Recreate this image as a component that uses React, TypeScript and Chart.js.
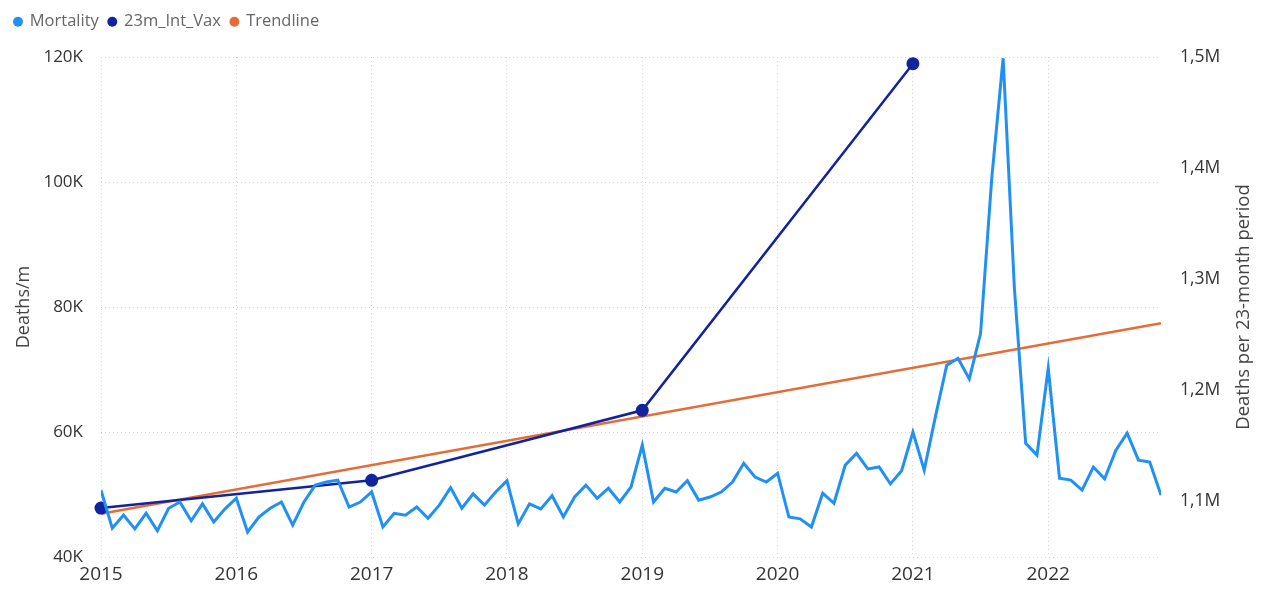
import React, { useEffect, useRef } from "react";
import { Chart, registerables } from "chart.js";

Chart.register(...registerables);

// Categories: years (x axis), monthly values per year
const years = [2015, 2016, 2017, 2018, 2019, 2020, 2021, 2022];

// Mortality (deaths per month), Jan..Dec
const mortality2015 = [50700, 44600, 46700, 44500, 47000, 44200, 47800, 48800, 45800, 48500, 45600, 47700];
const mortality2016 = [49400, 44000, 46400, 47800, 48800, 45100, 48800, 51500, 52000, 52300, 48000, 48800];
const mortality2017 = [50400, 44800, 47000, 46700, 48000, 46200, 48300, 51100, 47800, 50100, 48300, 50400];
const mortality2018 = [52200, 45300, 48500, 47700, 49800, 46400, 49600, 51500, 49400, 51000, 48800, 51200];
const mortality2019 = [57900, 48800, 51000, 50400, 52200, 49100, 49600, 50400, 52000, 55000, 52800, 52000];
const mortality2020 = [53400, 46400, 46100, 44800, 50200, 48600, 54700, 56600, 54100, 54400, 51700, 53800];
const mortality2021 = [60000, 53900, 62500, 70700, 71800, 68500, 75800, 100800, 119800, 83000, 58200, 56300];
const mortality2022 = [70200, 52600, 52300, 50700, 54400, 52500, 57100, 59800, 55500, 55200, 49900];
const mortalityByYear = [
  mortality2015, mortality2016, mortality2017, mortality2018,
  mortality2019, mortality2020, mortality2021, mortality2022,
];

// 23-month interval series (right axis)
const vaxYears = [2015, 2017, 2019, 2021];
const vaxValues = [1094000, 1119000, 1182000, 1494000];

// Trendline (left axis): start Jan 2015, end Nov 2022
const trendYears = [2015, 2022];
const trendMonths = [1, 11];
const trendValues = [46900, 77400];

// Axis ticks
const leftTicks = [40000, 60000, 80000, 100000, 120000];
const rightTicks = [1100000, 1200000, 1300000, 1400000, 1500000];
const rightMin = 1050000;
const lastYear = 2022;
const lastMonth = 11;

const leftTitle = "Deaths/m";
const rightTitle = "Deaths per 23-month period";

const FONT = "'Open Sans', 'DejaVu Sans', sans-serif";

export default function App() {
  const ref = useRef<HTMLCanvasElement | null>(null);

  useEffect(() => {
    if (!ref.current) return;

    const mortality: { x: number; y: number }[] = [];
    mortalityByYear.forEach((vals, i) =>
      vals.forEach((v, m) => mortality.push({ x: years[i] + m / 12, y: v }))
    );
    const vax = vaxYears.map((yr, i) => ({ x: yr, y: vaxValues[i] }));
    const trend = trendYears.map((yr, i) => ({ x: yr + (trendMonths[i] - 1) / 12, y: trendValues[i] }));

    const legendHeightPlugin = {
      id: "legendHeight",
      afterInit(chart: any) {
        const lg = chart.legend;
        if (!lg) return;
        const orig = lg.fit.bind(lg);
        lg.fit = () => {
          orig();
          lg.height = 53.5;
        };
      },
    };

    // Right axis title, reading bottom-to-top like the reference
    const rightTitlePlugin = {
      id: "rightTitle",
      afterDraw(chart: any) {
        const s = chart.scales.y1;
        const ctx = chart.ctx;
        ctx.save();
        ctx.translate(s.right - 19, (s.top + s.bottom) / 2);
        ctx.rotate(-Math.PI / 2);
        ctx.font = `18.5px ${FONT}`;
        ctx.fillStyle = "#444444";
        ctx.textAlign = "center";
        ctx.textBaseline = "middle";
        ctx.fillText(rightTitle, 0, 0);
        ctx.restore();
      },
    };

    const dotted = { display: false, dash: [1, 3] };

    const chart = new Chart(ref.current, {
      type: "line",
      data: {
        datasets: [
          {
            label: "Mortality",
            data: mortality,
            borderColor: "#2090F5",
            backgroundColor: "#2090F5",
            borderWidth: 3,
            pointRadius: 0,
            tension: 0,
            yAxisID: "y",
          },
          {
            label: "23m_Int_Vax",
            data: vax,
            borderColor: "#12239E",
            backgroundColor: "#12239E",
            borderWidth: 2.5,
            pointRadius: 6.5,
            pointBorderWidth: 0,
            tension: 0,
            clip: false,
            yAxisID: "y1",
          },
          {
            label: "Trendline",
            data: trend,
            borderColor: "#E66C37",
            backgroundColor: "#E66C37",
            borderWidth: 2.5,
            pointRadius: 0,
            tension: 0,
            yAxisID: "y",
          },
        ],
      },
      options: {
        animation: false,
        responsive: false,
        maintainAspectRatio: false,
        layout: { padding: { left: 4.5, right: 0, top: 3.5, bottom: 0 } },
        plugins: {
          tooltip: { enabled: false },
          legend: {
            display: true,
            position: "top",
            align: "start",
            labels: {
              usePointStyle: true,
              boxWidth: 7,
              boxHeight: 7,
              padding: 10,
              color: "#666666",
              font: { family: FONT, size: 16.5 },
              generateLabels: (c: any) =>
                c.data.datasets.map((ds: any, i: number) => ({
                  text: ds.label,
                  fillStyle: ds.borderColor,
                  strokeStyle: ds.borderColor,
                  lineWidth: 0,
                  pointStyle: "circle",
                  hidden: false,
                  datasetIndex: i,
                  fontColor: "#666666",
                })),
            },
          },
        },
        scales: {
          x: {
            type: "linear",
            min: years[0],
            max: lastYear + (lastMonth - 1) / 12,
            afterFit: (s: any) => {
              s.height = 35;
            },
            ticks: {
              stepSize: 1,
              includeBounds: false,
              autoSkip: false,
              maxRotation: 0,
              padding: 6,
              color: "#333333",
              font: { family: FONT, size: 19 },
              callback: (v: any) => String(v),
            },
            grid: { color: "#d4d4d4", lineWidth: 1, drawTicks: false },
            border: dotted,
          },
          y: {
            type: "linear",
            position: "left",
            min: leftTicks[0],
            max: leftTicks[leftTicks.length - 1],
            afterFit: (s: any) => {
              s.width = 96.5;
            },
            afterBuildTicks: (s: any) => {
              s.ticks = leftTicks.map((v) => ({ value: v }));
            },
            ticks: {
              padding: 18,
              color: "#333333",
              font: { family: FONT, size: 17 },
              callback: (v: any) => Number(v) / 1000 + "K",
            },
            title: {
              display: true,
              text: leftTitle,
              color: "#444444",
              font: { family: FONT, size: 18 },
              padding: { top: 9, bottom: 0 },
            },
            grid: { color: "#d4d4d4", lineWidth: 1, drawTicks: false },
            border: dotted,
          },
          y1: {
            type: "linear",
            position: "right",
            min: rightMin,
            max: rightTicks[rightTicks.length - 1],
            afterFit: (s: any) => {
              s.width = 102;
            },
            afterBuildTicks: (s: any) => {
              s.ticks = rightTicks.map((v) => ({ value: v }));
            },
            ticks: {
              padding: 19,
              color: "#333333",
              font: { family: FONT, size: 17.5 },
              callback: (v: any) => (Number(v) / 1e6).toFixed(1).replace(".", ",") + "M",
            },
            title: { display: false },
            grid: { drawOnChartArea: false, drawTicks: false },
            border: { display: false },
          },
        },
      } as any,
      plugins: [legendHeightPlugin, rightTitlePlugin],
    } as any);

    return () => chart.destroy();
  }, []);

  return (
    <div style={{ position: "fixed", left: 0, top: 0, width: 1263, height: 592, background: "#ffffff" }}>
      <canvas ref={ref} width={1263} height={592} style={{ display: "block", width: 1263, height: 592 }} />
    </div>
  );
}
